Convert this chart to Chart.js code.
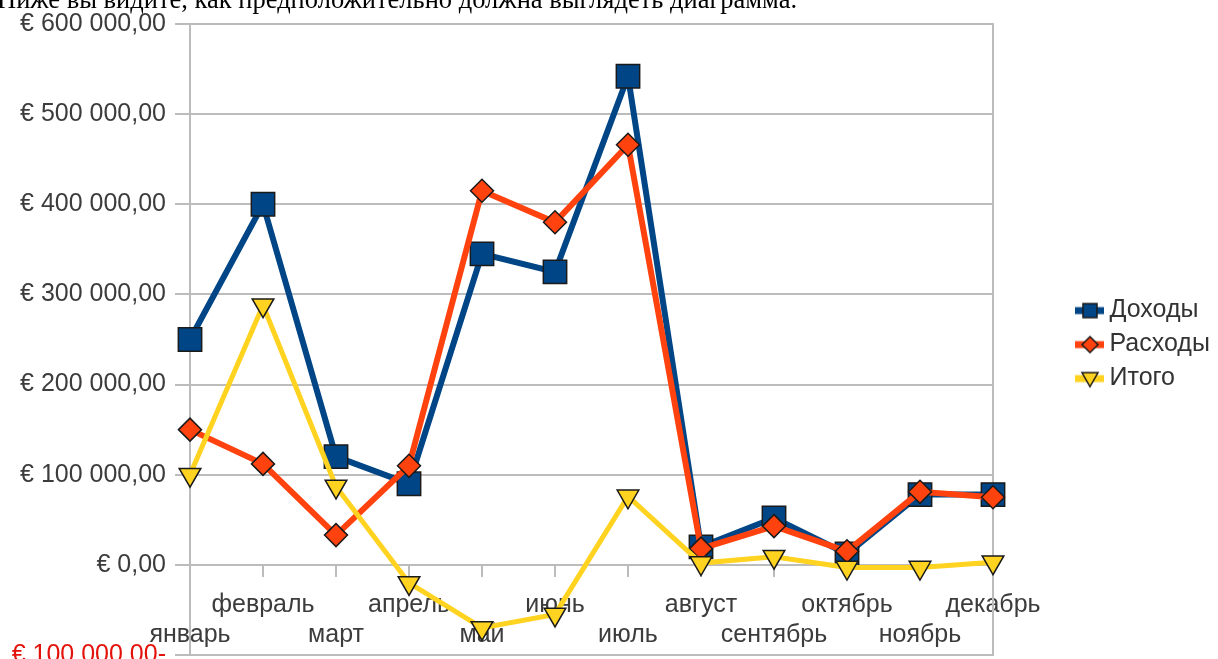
<!DOCTYPE html>
<html lang="ru">
<head>
<meta charset="utf-8">
<script src="https://cdn.jsdelivr.net/npm/chart.js@4"></script>
<style>
  html, body { margin: 0; padding: 0; background: #fff; overflow: hidden; }
  #wrap { position: relative; width: 1218px; height: 680px; }
  #caption { position: absolute; left: -3px; top: -14px; font: 26.5px/26px "Liberation Serif", serif; color: #000; white-space: nowrap; }
</style>
</head>
<body>
<div id="wrap">
  <canvas id="chart" width="1218" height="680"></canvas>
  <div id="caption">Ниже вы видите, как предположительно должна выглядеть диаграмма.</div>
</div>
<script>
// Data
const months = ['январь', 'февраль', 'март', 'апрель', 'май', 'июнь',
                'июль', 'август', 'сентябрь', 'октябрь', 'ноябрь', 'декабрь'];
const income   = [250000, 400000, 120000,  90000, 345000, 325000, 542000, 20000, 52000, 12000, 78000, 78000];
const expenses = [150000, 112000,  33000, 110000, 415000, 380000, 466000, 18000, 43000, 15000, 81000, 75000];
const total    = [100000, 288000,  87000, -20000, -70000, -55000,  76000,  2000,  9000, -3000, -3000,  3000];
const seriesNames = ['Доходы', 'Расходы', 'Итого'];

const colors = ['#004586', '#ff420e', '#ffd320'];
const shapes = ['rect', 'rectRot', 'triangle'];
const gridColor = '#bcbcbc';
const textColor = '#3c3c3c';
const negColor = '#e3120b';

Chart.defaults.font.family = '"Liberation Sans", Arial, sans-serif';
Chart.defaults.font.size = 25;

// € 600 000,00  /  € 100 000,00-
function euro(v) {
  const parts = Math.abs(v).toFixed(2).split('.');
  const int = parts[0].replace(/\B(?=(\d{3})+(?!\d))/g, ' ');
  return '€ ' + int + ',' + parts[1] + (v < 0 ? '-' : '');
}

// legend symbol: short thick line with the marker on it
function legendSymbol(color, shape) {
  const c = document.createElement('canvas');
  c.width = 109; c.height = 26;
  const g = c.getContext('2d');
  g.strokeStyle = color; g.lineWidth = 7;
  g.beginPath(); g.moveTo(80, 13); g.lineTo(109, 13); g.stroke();
  const cx = 95, cy = 13;
  g.fillStyle = color; g.strokeStyle = '#1a1a1a'; g.lineWidth = 1.5;
  g.beginPath();
  if (shape === 'rect') {
    g.rect(cx - 7, cy - 7, 14, 14);
  } else if (shape === 'rectRot') {
    g.moveTo(cx, cy - 8); g.lineTo(cx + 8, cy); g.lineTo(cx, cy + 8); g.lineTo(cx - 8, cy); g.closePath();
  } else {
    g.moveTo(cx - 8, cy - 6); g.lineTo(cx + 8, cy - 6); g.lineTo(cx, cy + 8); g.closePath();
  }
  g.fill(); g.stroke();
  return c;
}
const symbols = colors.map((c, i) => legendSymbol(c, shapes[i]));

// legend box a bit wider so the labels are not clipped
const legendWidth = {
  id: 'legendWidth',
  beforeInit(chart) {
    const fit = chart.legend.fit;
    chart.legend.fit = function () {
      fit.call(this);
      this.width = 225;
    };
  }
};

function series(i, values, radius, width) {
  return {
    label: seriesNames[i],
    data: values,
    borderColor: colors[i],
    backgroundColor: colors[i],
    borderWidth: width,
    tension: 0,
    pointStyle: shapes[i],
    pointRadius: radius,
    pointRotation: shapes[i] === 'triangle' ? 180 : 0,
    pointBackgroundColor: colors[i],
    pointBorderColor: '#1a1a1a',
    pointBorderWidth: 1.5,
    order: 3 - i
  };
}

new Chart(document.getElementById('chart'), {
  type: 'line',
  data: {
    labels: months,
    datasets: [
      series(0, income, 16.5, 6),
      series(1, expenses, 11.5, 6),
      series(2, total, 12.5, 5)
    ]
  },
  plugins: [legendWidth],
  options: {
    responsive: false,
    animation: false,
    events: [],
    layout: { padding: { top: 21, bottom: 25, left: 0, right: 0 } },
    plugins: {
      tooltip: { enabled: false },
      legend: {
        position: 'right',
        title: { display: true, text: ' ', padding: 0, font: { size: 11 } },
        labels: {
          usePointStyle: true,
          pointStyleWidth: 95,
          padding: 9,
          color: '#333',
          font: { size: 25 },
          sort: (a, b) => a.datasetIndex - b.datasetIndex,
          generateLabels: chart => Chart.defaults.plugins.legend.labels.generateLabels(chart).map(item => {
            item.pointStyle = symbols[item.datasetIndex];
            item.rotation = 0;
            return item;
          })
        }
      }
    },
    scales: {
      x: {
        position: { y: 0 },
        offset: false,
        grid: { drawOnChartArea: false, drawTicks: true, tickLength: 12, color: gridColor, lineWidth: 2 },
        border: { display: false },
        ticks: {
          autoSkip: false,
          maxRotation: 0,
          padding: 13,
          color: textColor,
          font: { size: 25, lineHeight: 1.2 },
          callback: (v, i) => i % 2 === 0 ? ['', months[i]] : months[i]
        }
      },
      y: {
        min: -100000,
        max: 600000,
        ticks: {
          stepSize: 100000,
          padding: 9,
          color: ctx => ctx.tick.value < 0 ? negColor : textColor,
          callback: v => euro(v)
        },
        grid: { color: gridColor, lineWidth: 2, tickLength: 15 },
        border: { color: gridColor, width: 2 },
        afterFit: s => { s.width = 190; }
      },
      yRight: {
        position: 'right',
        ticks: { display: false },
        grid: { display: false, drawTicks: false },
        border: { display: true, color: gridColor, width: 2 }
      }
    }
  }
});
</script>
</body>
</html>
